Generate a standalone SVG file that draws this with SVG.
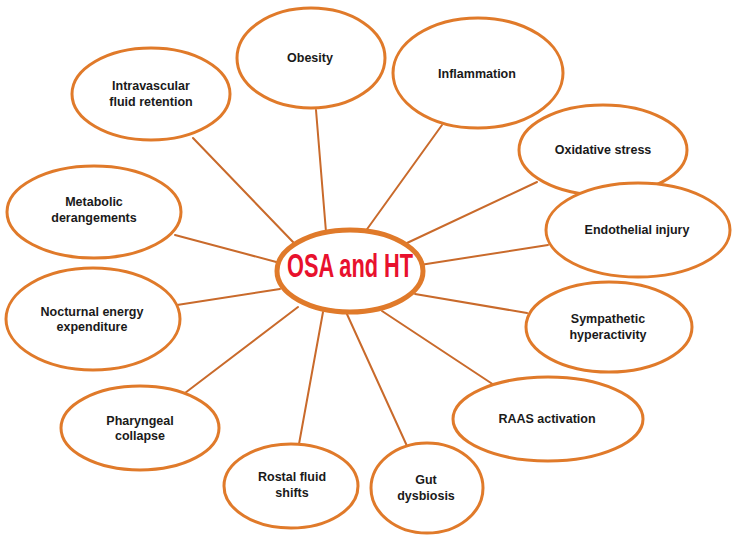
<svg xmlns="http://www.w3.org/2000/svg" width="739" height="545" viewBox="0 0 739 545">
<style>
.bg{fill:#ffffff}
.conn line{stroke:#C96A2B;stroke-width:2;stroke-linecap:round}
.node ellipse{fill:#ffffff;stroke:#E07A2A;stroke-width:3}
.node text{font-family:"Liberation Sans",Arial,sans-serif;font-weight:bold;font-size:12.5px;fill:#1a1a1a;text-anchor:middle}
#center ellipse{stroke-width:5}
#center text{font-family:"Liberation Sans",Arial,sans-serif;font-weight:bold;font-size:34px;fill:#E8112D;text-anchor:middle}
</style>
<rect class="bg" x="0" y="0" width="739" height="545"/>
<g id="connectors" class="conn">
<line x1="193" y1="138" x2="293" y2="242"/>
<line x1="316" y1="110" x2="326" y2="232"/>
<line x1="175" y1="235" x2="280" y2="263"/>
<line x1="442" y1="125" x2="365" y2="232"/>
<line x1="537" y1="182" x2="407" y2="243"/>
<line x1="548" y1="245" x2="420" y2="265"/>
<line x1="177" y1="305" x2="280" y2="289"/>
<line x1="185" y1="393" x2="298" y2="307"/>
<line x1="299" y1="444" x2="323" y2="312"/>
<line x1="407" y1="446" x2="346" y2="312"/>
<line x1="527" y1="313" x2="415" y2="294"/>
<line x1="494" y1="385" x2="382" y2="311"/>
</g>
<g id="n-intravascular" class="node"><ellipse cx="151" cy="94" rx="79" ry="46"/><text x="151" y="90">Intravascular</text><text x="151" y="106">fluid retention</text></g>
<g id="n-obesity" class="node"><ellipse cx="311" cy="58" rx="74" ry="50"/><text x="310" y="62">Obesity</text></g>
<g id="n-inflammation" class="node"><ellipse cx="478" cy="73" rx="85" ry="55"/><text x="477" y="78">Inflammation</text></g>
<g id="n-oxidative" class="node"><ellipse cx="603" cy="150" rx="84" ry="45"/><text x="603" y="154">Oxidative stress</text></g>
<g id="n-metabolic" class="node"><ellipse cx="94" cy="212" rx="87" ry="46"/><text x="94" y="206">Metabolic</text><text x="94" y="222">derangements</text></g>
<g id="n-endothelial" class="node"><ellipse cx="638" cy="230" rx="92" ry="47"/><text x="637" y="234">Endothelial injury</text></g>
<g id="n-nocturnal" class="node"><ellipse cx="93" cy="319" rx="87" ry="51"/><text x="92" y="316">Nocturnal energy</text><text x="92" y="331">expenditure</text></g>
<g id="n-sympathetic" class="node"><ellipse cx="609" cy="327" rx="83" ry="45"/><text x="608" y="323">Sympathetic</text><text x="608" y="339">hyperactivity</text></g>
<g id="n-raas" class="node"><ellipse cx="548" cy="419" rx="95" ry="42"/><text x="547" y="423">RAAS activation</text></g>
<g id="n-pharyngeal" class="node"><ellipse cx="140" cy="428" rx="79" ry="42"/><text x="140" y="425">Pharyngeal</text><text x="140" y="440">collapse</text></g>
<g id="n-rostal" class="node"><ellipse cx="291" cy="486" rx="67" ry="42"/><text x="292" y="481">Rostal fluid</text><text x="292" y="497">shifts</text></g>
<g id="n-gut" class="node"><ellipse cx="427" cy="488" rx="56" ry="45"/><text x="426" y="484">Gut</text><text x="426" y="500">dysbiosis</text></g>
<g id="center" class="node"><ellipse cx="350" cy="271" rx="73" ry="41"/><text x="350" y="277" textLength="126" lengthAdjust="spacingAndGlyphs">OSA and HT</text></g>
</svg>
